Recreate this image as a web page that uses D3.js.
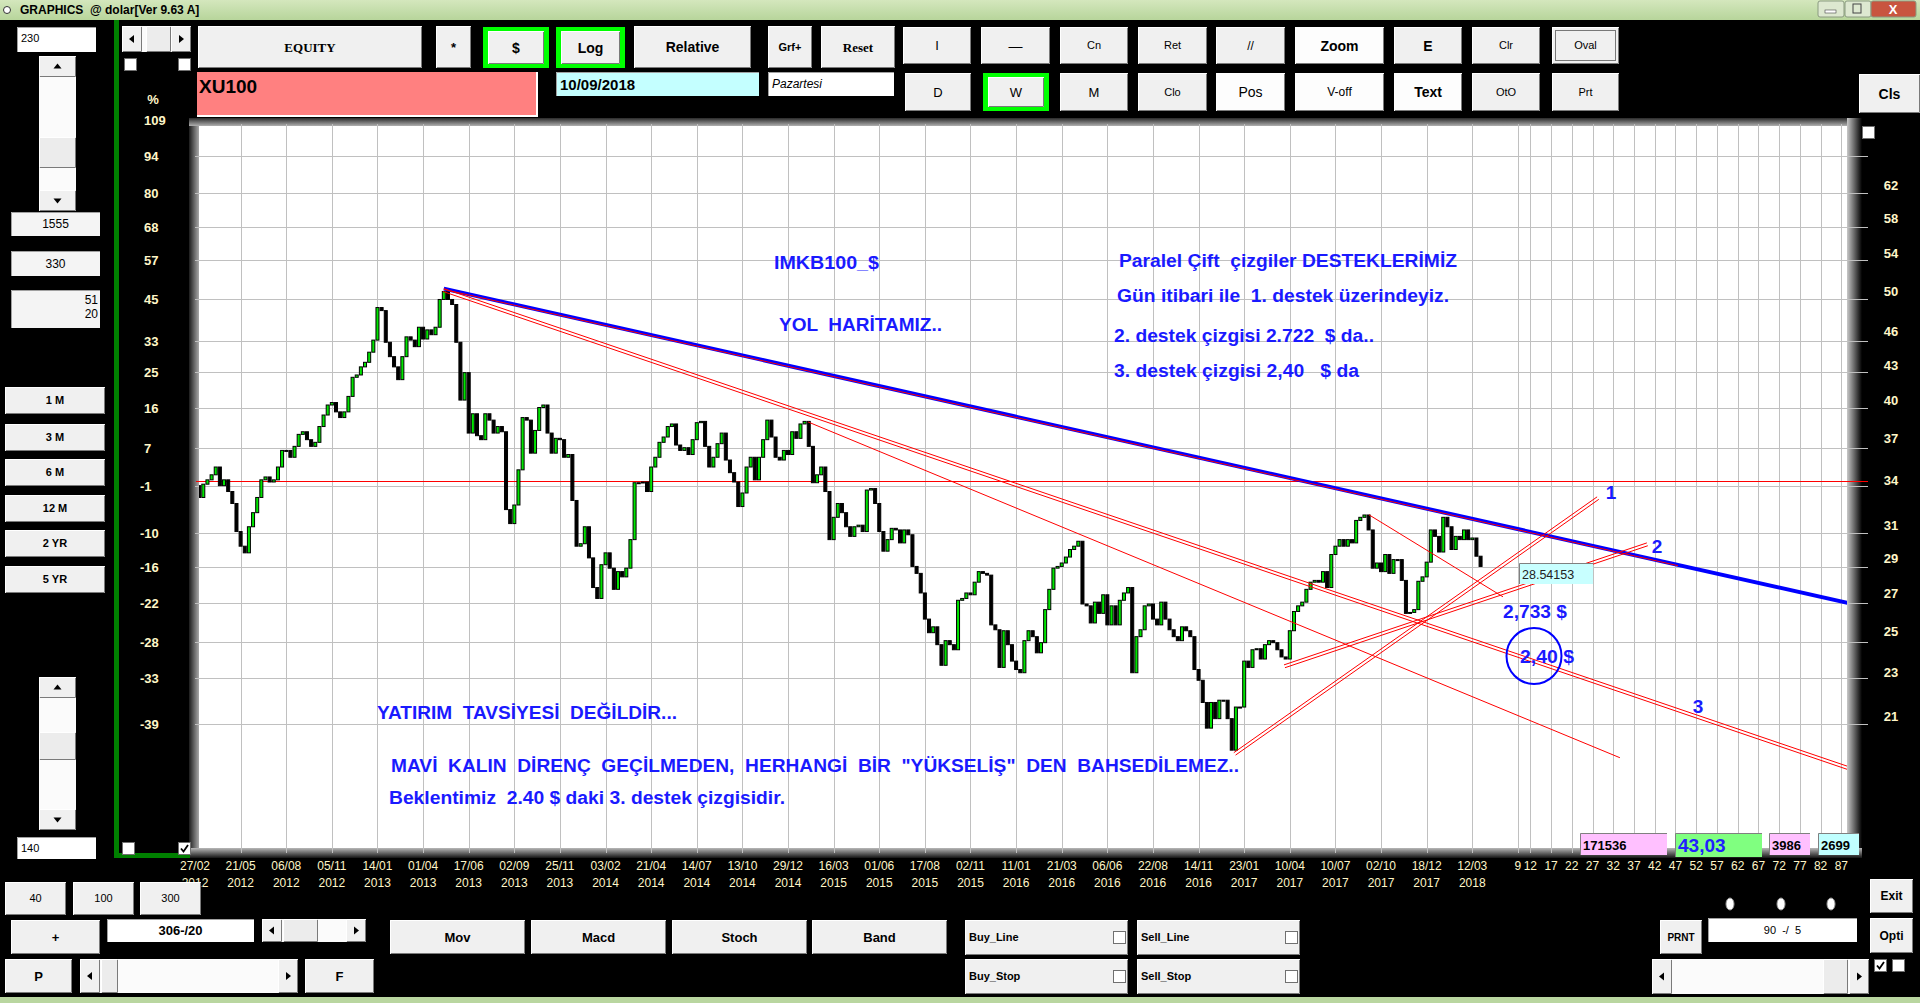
<!DOCTYPE html>
<html>
<head>
<meta charset="utf-8">
<script src="https://cdn.jsdelivr.net/npm/d3@7"></script>
<style>
html, body { margin: 0; padding: 0; background: #000; overflow: hidden; }
svg { display: block; }
text { white-space: pre; }
</style>
</head>
<body>
<script>
// weekly closes of XU100 in $, bar 0 = 27/02/2012
var closes = [
	33.6, 32.8, 33.7, 34.0, 34.35, 34.9, 33.6, 34.0, 33.2, 32.4,
	30.6, 29.7, 29.3, 30.9, 31.8, 32.8, 34.0, 34.2, 33.85, 34.0,
	34.9, 36.1, 36.1, 35.6, 36.4, 37.3, 37.5, 36.9, 36.4, 36.7,
	37.9, 38.8, 39.6, 39.8, 39.05, 38.6, 39.05, 40.3, 41.9, 42.1,
	42.8, 43.2, 44.1, 45.2, 48.3, 48.0, 45.0, 43.7, 42.8, 41.7,
	43.7, 45.5, 45.2, 44.6, 46.4, 45.3, 46.15, 45.7, 46.4, 49.1,
	49.9, 49.1, 48.6, 45.0, 40.0, 42.3, 37.4, 38.9, 37.2, 36.9,
	38.9, 38.4, 37.4, 37.9, 37.5, 32.0, 31.1, 32.3, 34.7, 38.6,
	38.4, 35.9, 37.6, 39.4, 39.6, 37.4, 35.9, 37.0, 36.9, 35.6,
	35.8, 32.6, 29.7, 29.85, 30.9, 29.0, 27.3, 26.7, 28.6, 29.3,
	28.4, 27.2, 28.2, 27.9, 28.4, 30.1, 33.8, 33.8, 33.85, 33.2,
	34.9, 35.6, 36.7, 37.1, 37.9, 38.1, 36.5, 36.1, 36.3, 35.8,
	36.9, 38.2, 38.3, 36.4, 34.9, 35.6, 36.6, 37.4, 35.4, 34.5,
	33.85, 32.2, 33.1, 34.9, 35.6, 34.0, 35.6, 36.9, 38.4, 37.1,
	35.6, 35.4, 36.1, 35.8, 37.5, 37.0, 38.1, 38.3, 36.4, 33.8,
	34.35, 34.9, 33.2, 30.1, 31.5, 32.4, 31.8, 30.9, 30.3, 30.9,
	31.0, 30.6, 33.3, 33.4, 32.4, 30.6, 29.4, 30.1, 30.8, 30.7,
	29.9, 30.7, 30.4, 28.5, 28.1, 27.0, 25.6, 24.9, 25.2, 24.3,
	23.3, 24.5, 24.3, 24.05, 26.6, 26.7, 27.0, 26.9, 27.6, 28.2,
	28.1, 28.0, 25.3, 25.05, 23.2, 25.0, 24.3, 23.5, 23.1, 22.95,
	24.5, 25.0, 24.7, 23.9, 24.4, 26.1, 27.2, 28.4, 28.5, 28.7,
	29.05, 29.5, 29.7, 30.0, 26.4, 26.3, 25.4, 26.5, 25.9, 26.9,
	25.3, 26.3, 25.3, 26.6, 27.0, 27.3, 22.95, 24.7, 25.05, 26.3,
	26.4, 25.6, 25.3, 26.5, 25.6, 25.05, 24.7, 24.5, 25.2, 25.0,
	24.7, 23.1, 22.6, 21.6, 20.5, 21.6, 20.9, 21.7, 21.7, 20.9,
	19.6, 21.4, 21.4, 23.5, 23.2, 24.05, 24.1, 23.6, 24.3, 24.5,
	24.4, 24.05, 23.7, 23.6, 25.0, 26.0, 26.3, 26.5, 27.2, 27.6,
	27.7, 27.6, 28.2, 27.3, 29.2, 29.7, 30.1, 29.7, 30.1, 29.9,
	31.3, 31.5, 31.65, 30.7, 28.4, 28.7, 28.2, 29.2, 28.1, 28.9,
	28.9, 27.7, 25.9, 25.95, 26.1, 27.65, 27.9, 28.75, 30.7, 30.3,
	29.35, 31.5, 30.9, 29.5, 30.3, 30.1, 30.7, 30.1, 30.2, 29.1,
	28.5
];
var firstOpen = 33.9;
var basePrice = 33.9;

var pctTicks = [ 109, 94, 80, 68, 57, 45, 33, 25, 16, 7, -1, -10, -16, -22, -28, -33, -39 ];
var priceTicks = [ 62, 58, 54, 50, 46, 43, 40, 37, 34, 31, 29, 27, 25, 23, 21 ];

var labelDays = [ "27/02", "21/05", "06/08", "05/11", "14/01", "01/04", "17/06", "02/09", "25/11", "03/02",
	"21/04", "14/07", "13/10", "29/12", "16/03", "01/06", "17/08", "02/11", "11/01", "21/03",
	"06/06", "22/08", "14/11", "23/01", "10/04", "10/07", "02/10", "18/12", "12/03" ];
var labelYears = [ "2012", "2012", "2012", "2012", "2013", "2013", "2013", "2013", "2013", "2014",
	"2014", "2014", "2014", "2014", "2015", "2015", "2015", "2015", "2016", "2016",
	"2016", "2016", "2016", "2017", "2017", "2017", "2017", "2017", "2018" ];
var labelStep = 11;
var futureTicks = [ 9, 12, 17, 22, 27, 32, 37, 42, 47, 52, 57, 62, 67, 72, 77, 82, 87 ];

// drawn trend lines: [bar1, price1, bar2, price2]
var blueLine = [ 60.0, 50.2, 398.5, 26.46 ];
var blueRedEnd = 357.6;
var singleRedLines = [ [ 147.8, 38.26, 343.6, 19.3 ], [ 283.1, 31.66, 315.4, 26.79 ] ];
var doubleRedLines = [ [ 60.0, 50.2, 398.8, 18.95 ], [ 262.6, 23.32, 350.1, 29.9 ], [ 250.5, 19.5, 338.1, 32.84 ] ];

var lastValue = "28.54153";
var statusValues = [ "171536", "43,03", "3986", "2699" ];

var sans = "'Liberation Sans', Arial, sans-serif";
var serif = "'Liberation Serif', 'Times New Roman', serif";
var cream = "#fff6c8";
var noteBlue = "#1a1aff";
var candleGreen = "#00e600";

var svg = d3.select("body").append("svg").attr("width", 1920).attr("height", 1003);
var defs = svg.append("defs");

var gradient = function(id, x2, y2, c1, c2) {
	var g = defs.append("linearGradient").attr("id", id)
		.attr("x1", 0).attr("y1", 0).attr("x2", x2).attr("y2", y2);
	g.append("stop").attr("offset", 0).attr("stop-color", c1);
	g.append("stop").attr("offset", 1).attr("stop-color", c2);
};
gradient("gTitle", 0, 1, "#d4e7bd", "#b7d59b");
gradient("gLeft", 1, 0, "#1c1c1c", "#a8a8a8");
gradient("gTop", 0, 1, "#2a2a2a", "#b0b0b0");
gradient("gRight", 1, 0, "#c8c8c8", "#000");
gradient("gBottom", 0, 1, "#b8b8b8", "#141414");

defs.append("clipPath").attr("id", "plotClip").append("rect")
	.attr("x", 199).attr("y", 126).attr("width", 1648).attr("height", 722);

var x = d3.scaleLinear().domain([ 0, 398 ]).range([ 195, 195 + 398 * 4.147 ]);
var y = d3.scaleLog().domain([ 62, 21 ]).range([ 185, 716.3 ]);

var lastBar = closes.length - 1;
var openOf = function(i) {
	return i == 0 ? firstOpen : closes[i - 1];
};

// ---- window chrome ----
svg.append("rect").attr("width", 1920).attr("height", 1003).attr("fill", "#000");
svg.append("rect").attr("width", 1920).attr("height", 20).attr("fill", "url(#gTitle)");
svg.append("circle").attr("cx", 7).attr("cy", 10).attr("r", 3.5).attr("fill", "#fff").attr("stroke", "#333");
svg.append("text").attr("x", 20).attr("y", 14).attr("font-family", sans).attr("font-size", 12)
	.attr("font-weight", "bold").attr("fill", "#000").text("GRAPHICS  @ dolar[Ver 9.63 A]");
[ [ 1818, "#dde8d0" ], [ 1845, "#dde8d0" ], [ 1871, "#c8553f" ] ].forEach(function(b, i) {
	svg.append("rect").attr("x", b[0]).attr("y", 1).attr("width", i == 2 ? 45 : 26).attr("height", 16)
		.attr("rx", 2).attr("fill", b[1]).attr("stroke", "#8a9a80");
});
svg.append("rect").attr("x", 1825).attr("y", 10).attr("width", 11).attr("height", 3).attr("fill", "#fff").attr("stroke", "#444").attr("stroke-width", 0.6);
svg.append("rect").attr("x", 1853).attr("y", 4).attr("width", 8).attr("height", 9).attr("fill", "none").attr("stroke", "#444");
svg.append("text").attr("x", 1893).attr("y", 14).attr("text-anchor", "middle").attr("font-family", sans)
	.attr("font-weight", "bold").attr("font-size", 13).attr("fill", "#fff").text("X");
svg.append("rect").attr("x", 0).attr("y", 997).attr("width", 1920).attr("height", 6).attr("fill", "#b9d6a0");

// ---- plot frame ----
svg.append("rect").attr("x", 199).attr("y", 126).attr("width", 1648).attr("height", 722).attr("fill", "#fff");
svg.append("rect").attr("x", 189).attr("y", 118).attr("width", 10).attr("height", 740).attr("fill", "url(#gLeft)");
svg.append("rect").attr("x", 189).attr("y", 118).attr("width", 1673).attr("height", 8).attr("fill", "url(#gTop)");
svg.append("rect").attr("x", 1847).attr("y", 118).attr("width", 15).attr("height", 740).attr("fill", "url(#gRight)");
svg.append("rect").attr("x", 189).attr("y", 848).attr("width", 1673).attr("height", 10).attr("fill", "url(#gBottom)");

// ---- grid ----
var grid = svg.append("g").attr("stroke", "#c0c0c0").attr("stroke-width", 1);
grid.selectAll(".hgrid").data(pctTicks.filter(function(p) { return p < 100; })).enter().append("line")
	.attr("x1", 195).attr("x2", 1868)
	.attr("y1", function(p) { return Math.round(y(basePrice * (1 + p / 100))) + 0.5; })
	.attr("y2", function(p) { return Math.round(y(basePrice * (1 + p / 100))) + 0.5; });
var gridBars = labelDays.map(function(d, k) { return k * labelStep; }).slice(1)
	.concat(futureTicks.map(function(n) { return lastBar + n; }));
grid.selectAll(".vgrid").data(gridBars).enter().append("line")
	.attr("y1", 124).attr("y2", 853)
	.attr("x1", function(b) { return Math.round(x(b)) + 0.5; })
	.attr("x2", function(b) { return Math.round(x(b)) + 0.5; });

svg.append("line").attr("x1", 196).attr("x2", 1868)
	.attr("y1", Math.round(y(basePrice)) + 0.5).attr("y2", Math.round(y(basePrice)) + 0.5)
	.attr("stroke", "#ff0000").attr("stroke-width", 1);

// ---- candles ----
var plot = svg.append("g").attr("clip-path", "url(#plotClip)");
plot.selectAll(".candle").data(closes).enter().append("rect").attr("class", "candle")
	.attr("x", function(d, i) { return x(i) - 1.5; })
	.attr("width", 3)
	.attr("y", function(d, i) { return y(Math.max(d, openOf(i))); })
	.attr("height", function(d, i) { return Math.max(1, Math.abs(y(d) - y(openOf(i)))); })
	.attr("fill", function(d, i) { return d > openOf(i) ? candleGreen : "#000"; })
	.attr("stroke", "#000").attr("stroke-width", 1);

// ---- trend lines ----
var toScreen = function(l) {
	return [ x(l[0]), y(l[1]), x(l[2]), y(l[3]) ];
};
var segment = function(s, color, width) {
	plot.append("line").attr("x1", s[0]).attr("y1", s[1]).attr("x2", s[2]).attr("y2", s[3])
		.attr("stroke", color).attr("stroke-width", width);
};
var b = toScreen(blueLine);
segment(b, "#0000ff", 4);
var t = (x(blueRedEnd) - b[0]) / (b[2] - b[0]);
segment([ b[0], b[1] + 0.8, x(blueRedEnd), b[1] + 0.8 + t * (b[3] - b[1]) ], "#ff0000", 1);
singleRedLines.forEach(function(l) {
	segment(toScreen(l), "#ff0000", 1);
});
doubleRedLines.forEach(function(l) {
	var s = toScreen(l);
	var dx = s[2] - s[0], dy = s[3] - s[1], len = Math.sqrt(dx * dx + dy * dy);
	var nx = -dy / len * 3, ny = dx / len * 3;
	segment(s, "#ff0000", 1);
	segment([ s[0] + nx, s[1] + ny, s[2] + nx, s[3] + ny ], "#ff0000", 1);
});

// ---- annotations ----
var notes = svg.append("g").attr("font-family", sans).attr("font-weight", "bold").attr("fill", noteBlue);
[
	[ "IMKB100_$", 774, 269, 105 ],
	[ "YOL  HAR\u0130TAMIZ..", 779, 331, 163 ],
	[ "Paralel \u00c7ift  \u00e7izgiler DESTEKLER\u0130M\u0130Z", 1119, 267, 338 ],
	[ "G\u00fcn itibari ile  1. destek \u00fczerindeyiz.", 1117, 302, 332 ],
	[ "2. destek \u00e7izgisi 2.722  $ da..", 1114, 342, 260 ],
	[ "3. destek \u00e7izgisi 2,40   $ da", 1114, 377, 245 ],
	[ "YATIRIM  TAVS\u0130YES\u0130  DE\u011e\u0130LD\u0130R...", 377, 719, 300 ],
	[ "MAV\u0130  KALIN  D\u0130REN\u00c7  GE\u00c7\u0130LMEDEN,  HERHANG\u0130  B\u0130R  \"Y\u00dcKSEL\u0130\u015e\"  DEN  BAHSED\u0130LEMEZ..", 391, 772, 848 ],
	[ "Beklentimiz  2.40 $ daki 3. destek \u00e7izgisidir.", 389, 804, 396 ]
].forEach(function(n) {
	notes.append("text").attr("x", n[1]).attr("y", n[2]).attr("font-size", 18)
		.attr("textLength", n[3]).attr("lengthAdjust", "spacingAndGlyphs").text(n[0]);
});
[ [ "1", 1611, 499 ], [ "2", 1657, 553 ], [ "3", 1698, 713 ] ].forEach(function(n) {
	notes.append("text").attr("x", n[1]).attr("y", n[2]).attr("font-size", 19)
		.attr("text-anchor", "middle").text(n[0]);
});
notes.append("text").attr("x", 1503).attr("y", 618).attr("font-size", 19)
	.attr("textLength", 64).attr("lengthAdjust", "spacingAndGlyphs").text("2,733 $");
notes.append("text").attr("x", 1520).attr("y", 663).attr("font-size", 19)
	.attr("textLength", 54).attr("lengthAdjust", "spacingAndGlyphs").text("2,40 $");
svg.append("ellipse").attr("cx", 1534).attr("cy", 656).attr("rx", 27.5).attr("ry", 28)
	.attr("fill", "none").attr("stroke", "#0000ff").attr("stroke-width", 2);

svg.append("rect").attr("x", 1519).attr("y", 563).attr("width", 74).attr("height", 21).attr("fill", "#c8ffff");
svg.append("path").attr("d", "M1519.5,584V563.5H1593").attr("fill", "none").attr("stroke", "#808080");
svg.append("text").attr("x", 1522).attr("y", 579).attr("font-family", sans).attr("font-size", 12.5)
	.attr("fill", "#222").text(lastValue);

// ---- axes labels ----
var axisText = svg.append("g").attr("font-family", sans).attr("fill", cream);
axisText.append("text").attr("x", 153).attr("y", 104).attr("font-weight", "bold").attr("font-size", 13)
	.attr("text-anchor", "middle").text("%");
axisText.selectAll(".pct").data(pctTicks).enter().append("text")
	.attr("x", function(p) { return p < 0 ? 140 : 144; })
	.attr("y", function(p) { return y(basePrice * (1 + p / 100)) + 5; })
	.attr("font-weight", "bold").attr("font-size", 13)
	.text(function(p) { return p; });
axisText.selectAll(".price").data(priceTicks).enter().append("text")
	.attr("x", 1891).attr("text-anchor", "middle")
	.attr("y", function(v) { return y(v) + 5; })
	.attr("font-weight", "bold").attr("font-size", 13)
	.text(function(v) { return v; });
axisText.selectAll(".day").data(labelDays).enter().append("text")
	.attr("x", function(d, k) { return x(k * labelStep); }).attr("y", 870)
	.attr("text-anchor", "middle").attr("font-size", 12).text(function(d) { return d; });
axisText.selectAll(".year").data(labelYears).enter().append("text")
	.attr("x", function(d, k) { return x(k * labelStep); }).attr("y", 887)
	.attr("text-anchor", "middle").attr("font-size", 12).text(function(d) { return d; });
axisText.selectAll(".future").data(futureTicks).enter().append("text")
	.attr("x", function(n) { return x(lastBar + n); }).attr("y", 870)
	.attr("text-anchor", "middle").attr("font-size", 12).text(function(n) { return n; });

// ---- status boxes ----
var statusBox = function(x0, y0, x1, y1, fill, label, color, size) {
	svg.append("rect").attr("x", x0).attr("y", y0).attr("width", x1 - x0).attr("height", y1 - y0).attr("fill", fill);
	svg.append("path").attr("d", "M" + (x0 + 0.5) + "," + y1 + "V" + (y0 + 0.5) + "H" + x1)
		.attr("fill", "none").attr("stroke", "#808080");
	svg.append("text").attr("x", x0 + 3).attr("y", y1 - 5).attr("font-family", sans).attr("font-weight", "bold")
		.attr("font-size", size).attr("fill", color).text(label);
};
statusBox(1580, 833, 1667, 855, "#ffc0ff", statusValues[0], "#000", 13);
statusBox(1675, 833, 1762, 857, "#80ff80", statusValues[1], "#2020ff", 19);
statusBox(1769, 833, 1810, 855, "#ffc0ff", statusValues[2], "#000", 13);
statusBox(1818, 833, 1859, 855, "#c0ffff", statusValues[3], "#000", 13);

// ---- controls ----
var ui = svg.append("g");

var button = function(x0, y0, x1, y1, label, o) {
	o = o || {};
	if (o.green) {
		ui.append("rect").attr("x", x0).attr("y", y0).attr("width", x1 - x0).attr("height", y1 - y0).attr("fill", "#00ff00");
		x0 += 5; y0 += 4; x1 -= 5; y1 -= 4;
	}
	ui.append("rect").attr("x", x0).attr("y", y0).attr("width", x1 - x0).attr("height", y1 - y0)
		.attr("fill", o.fill || "#f0f0f0");
	ui.append("path").attr("d", "M" + (x0 + 0.5) + "," + (y1 - 1) + "V" + (y0 + 0.5) + "H" + (x1 - 1))
		.attr("fill", "none").attr("stroke", "#fff");
	ui.append("path").attr("d", "M" + (x0 + 1) + "," + (y1 - 0.5) + "H" + (x1 - 0.5) + "V" + (y0 + 1))
		.attr("fill", "none").attr("stroke", "#7a7a7a");
	if (o.focus) {
		ui.append("rect").attr("x", x0 + 3.5).attr("y", y0 + 3.5).attr("width", x1 - x0 - 7).attr("height", y1 - y0 - 7)
			.attr("fill", "none").attr("stroke", "#000").attr("stroke-dasharray", "1,1");
	}
	if (label) {
		ui.append("text").attr("x", o.left ? x0 + 4 : (x0 + x1) / 2).attr("y", (y0 + y1) / 2).attr("dy", "0.36em")
			.attr("text-anchor", o.left ? "start" : "middle")
			.attr("font-family", o.serif ? serif : sans)
			.attr("font-weight", o.normal ? "normal" : "bold")
			.attr("font-size", o.size || 13).attr("fill", "#000").text(label);
	}
};

var field = function(x0, y0, x1, y1, fill, label, o) {
	o = o || {};
	ui.append("rect").attr("x", x0).attr("y", y0).attr("width", x1 - x0).attr("height", y1 - y0).attr("fill", fill);
	ui.append("path").attr("d", "M" + (x0 + 0.5) + "," + y1 + "V" + (y0 + 0.5) + "H" + x1)
		.attr("fill", "none").attr("stroke", "#a0a0a0");
	if (label) {
		var tx = o.anchor == "middle" ? (x0 + x1) / 2 : (o.anchor == "end" ? x1 - 3 : x0 + 4);
		ui.append("text").attr("x", tx).attr("y", o.y || (y0 + y1) / 2).attr("dy", o.y ? 0 : "0.36em")
			.attr("text-anchor", o.anchor || "start").attr("font-family", sans)
			.attr("font-weight", o.bold ? "bold" : "normal").attr("font-style", o.italic ? "italic" : "normal")
			.attr("font-size", o.size || 12).attr("fill", "#000").text(label);
	}
};

var checkbox = function(x0, y0, checked) {
	ui.append("rect").attr("x", x0 + 0.5).attr("y", y0 + 0.5).attr("width", 12).attr("height", 12)
		.attr("fill", "#fff").attr("stroke", "#707070");
	if (checked) {
		ui.append("path").attr("d", "M" + (x0 + 3) + "," + (y0 + 6.5) + "l2.5,3l4.5,-6.5")
			.attr("fill", "none").attr("stroke", "#000").attr("stroke-width", 1.8);
	}
};

var arrow = function(cx, cy, dir) {
	var p = { up: "M-4,2L4,2L0,-3Z", down: "M-4,-2L4,-2L0,3Z", left: "M2,-4L2,4L-3,0Z", right: "M-2,-4L-2,4L3,0Z" };
	ui.append("path").attr("transform", "translate(" + cx + "," + cy + ")").attr("d", p[dir]).attr("fill", "#000");
};

var vscroll = function(x0, y0, x1, y1, t0, t1) {
	ui.append("rect").attr("x", x0).attr("y", y0).attr("width", x1 - x0).attr("height", y1 - y0).attr("fill", "#fbfbfb");
	button(x0, y0, x1, y0 + 21, "");
	button(x0, y1 - 21, x1, y1, "");
	button(x0, t0, x1, t1, "", { fill: "#ececec" });
	arrow((x0 + x1) / 2, y0 + 10.5, "up");
	arrow((x0 + x1) / 2, y1 - 10.5, "down");
};

var hscroll = function(x0, y0, x1, y1, t0, t1) {
	ui.append("rect").attr("x", x0).attr("y", y0).attr("width", x1 - x0).attr("height", y1 - y0).attr("fill", "#fbfbfb");
	button(x0, y0, x0 + 20, y1, "");
	button(x1 - 20, y0, x1, y1, "");
	button(t0, y0, t1, y1, "", { fill: "#ececec" });
	arrow(x0 + 10, (y0 + y1) / 2, "left");
	arrow(x1 - 10, (y0 + y1) / 2, "right");
};

// green frame on the left
ui.append("rect").attr("x", 114).attr("y", 20).attr("width", 5).attr("height", 838).attr("fill", "#008000");
ui.append("rect").attr("x", 114).attr("y", 853).attr("width", 76).attr("height", 5).attr("fill", "#008000");

// left column
field(17, 27, 96, 52, "#fff", "230", { y: 42, size: 11 });
vscroll(39, 56, 76, 211, 137, 168);
field(11, 212, 100, 236, "#f4f4f4", "1555", { anchor: "middle", size: 12 });
field(11, 251, 100, 276, "#f4f4f4", "330", { anchor: "middle", size: 12 });
field(11, 290, 100, 328, "#f4f4f4", "");
ui.append("text").attr("x", 98).attr("y", 304).attr("text-anchor", "end").attr("font-family", sans).attr("font-size", 12).text("51");
ui.append("text").attr("x", 98).attr("y", 318).attr("text-anchor", "end").attr("font-family", sans).attr("font-size", 12).text("20");
[ [ "1 M", 387 ], [ "3 M", 424 ], [ "6 M", 459 ], [ "12 M", 495 ], [ "2 YR", 530 ], [ "5 YR", 566 ] ].forEach(function(r) {
	button(5, r[1], 105, r[1] + 27, r[0], { size: 11 });
});
vscroll(39, 677, 76, 830, 732, 760);
field(17, 837, 96, 859, "#fff", "140", { y: 852, size: 11 });
hscroll(122, 26, 191, 52, 146, 171);
checkbox(124, 58, false);
checkbox(178, 58, false);
checkbox(122, 842, false);
checkbox(178, 842, true);

// top button rows
button(198, 26, 422, 68, "EQUITY", { serif: true, size: 13 });
button(436, 26, 471, 68, "*", { size: 13 });
button(483, 27, 549, 68, "$", { green: true, size: 14 });
button(556, 27, 625, 68, "Log", { green: true, size: 14 });
button(634, 26, 751, 68, "Relative", { size: 14 });
button(768, 26, 812, 68, "Grf+", { size: 11 });
button(821, 26, 895, 68, "Reset", { serif: true, size: 13 });
button(903, 27, 971, 64, "I", { normal: true, size: 13 });
button(981, 27, 1050, 64, "\u2014", { normal: true, size: 14 });
button(1060, 27, 1128, 64, "Cn", { normal: true, size: 11 });
button(1138, 27, 1207, 64, "Ret", { normal: true, size: 11 });
button(1216, 27, 1285, 64, "//", { normal: true, size: 12 });
button(1295, 27, 1384, 64, "Zoom", { fill: "#fdfdfd", size: 14 });
button(1394, 27, 1462, 64, "E", { size: 14 });
button(1472, 27, 1540, 64, "Clr", { normal: true, size: 11 });
button(1552, 27, 1619, 64, "Oval", { normal: true, size: 11, focus: true });

ui.append("rect").attr("x", 197).attr("y", 72).attr("width", 341).attr("height", 45).attr("fill", "#fff");
ui.append("rect").attr("x", 197).attr("y", 72).attr("width", 339).attr("height", 43).attr("fill", "#ff8080");
ui.append("text").attr("x", 199).attr("y", 93).attr("font-family", sans).attr("font-weight", "bold")
	.attr("font-size", 19).attr("fill", "#000").text("XU100");
field(556, 72, 759, 96, "#c4ffff", "10/09/2018", { y: 90, bold: true, size: 15 });
field(768, 72, 894, 96, "#fff", "Pazartesi", { y: 88, italic: true, size: 12 });

button(905, 73, 971, 111, "D", { normal: true, size: 13 });
button(983, 73, 1049, 111, "W", { green: true, normal: true, size: 13 });
button(1060, 73, 1128, 111, "M", { normal: true, size: 13 });
button(1138, 73, 1207, 111, "Clo", { normal: true, size: 11 });
button(1216, 73, 1285, 111, "Pos", { fill: "#fdfdfd", size: 14, normal: true });
button(1295, 73, 1384, 111, "V-off", { fill: "#fdfdfd", size: 12, normal: true });
button(1394, 73, 1462, 111, "Text", { fill: "#fdfdfd", size: 14 });
button(1472, 73, 1540, 111, "OtO", { normal: true, size: 11 });
button(1552, 73, 1619, 111, "Prt", { normal: true, size: 11 });
button(1859, 74, 1920, 113, "Cls", { size: 14 });
checkbox(1862, 126, false);

// bottom controls
button(5, 882, 66, 915, "40", { normal: true, size: 11 });
button(73, 882, 134, 915, "100", { normal: true, size: 11 });
button(140, 882, 201, 915, "300", { normal: true, size: 11 });
button(11, 920, 100, 954, "+", { size: 13 });
field(107, 919, 254, 942, "#fff", "306-/20", { anchor: "middle", bold: true, size: 13 });
hscroll(262, 919, 366, 942, 283, 318);
button(390, 920, 525, 954, "Mov", { size: 13 });
button(531, 920, 666, 954, "Macd", { size: 13 });
button(672, 920, 807, 954, "Stoch", { size: 13 });
button(812, 920, 947, 954, "Band", { size: 13 });
button(5, 959, 72, 993, "P", { size: 13 });
hscroll(80, 959, 298, 993, 101, 118);
button(305, 959, 374, 993, "F", { size: 13 });

[ [ "Buy_Line", 965, 920 ], [ "Sell_Line", 1137, 920 ], [ "Buy_Stop", 965, 959 ], [ "Sell_Stop", 1137, 959 ] ].forEach(function(c) {
	button(c[1], c[2], c[1] + 163, c[2] + 35, c[0], { left: true, size: 11 });
	checkbox(c[1] + 148, c[2] + 11, false);
});

[ 1730, 1781, 1831 ].forEach(function(cx) {
	ui.append("ellipse").attr("cx", cx).attr("cy", 904).attr("rx", 4).attr("ry", 6)
		.attr("fill", "#fff").attr("stroke", "#999");
});
button(1870, 879, 1913, 913, "Exit", { size: 12 });
button(1660, 920, 1702, 954, "PRNT", { size: 10 });
field(1708, 918, 1857, 942, "#fff", "90  -/  5", { anchor: "middle", size: 11 });
button(1870, 918, 1913, 953, "Opti", { size: 12 });
hscroll(1652, 959, 1869, 994, 1823, 1848);
checkbox(1874, 959, true);
checkbox(1892, 959, false);
</script>
</body>
</html>
